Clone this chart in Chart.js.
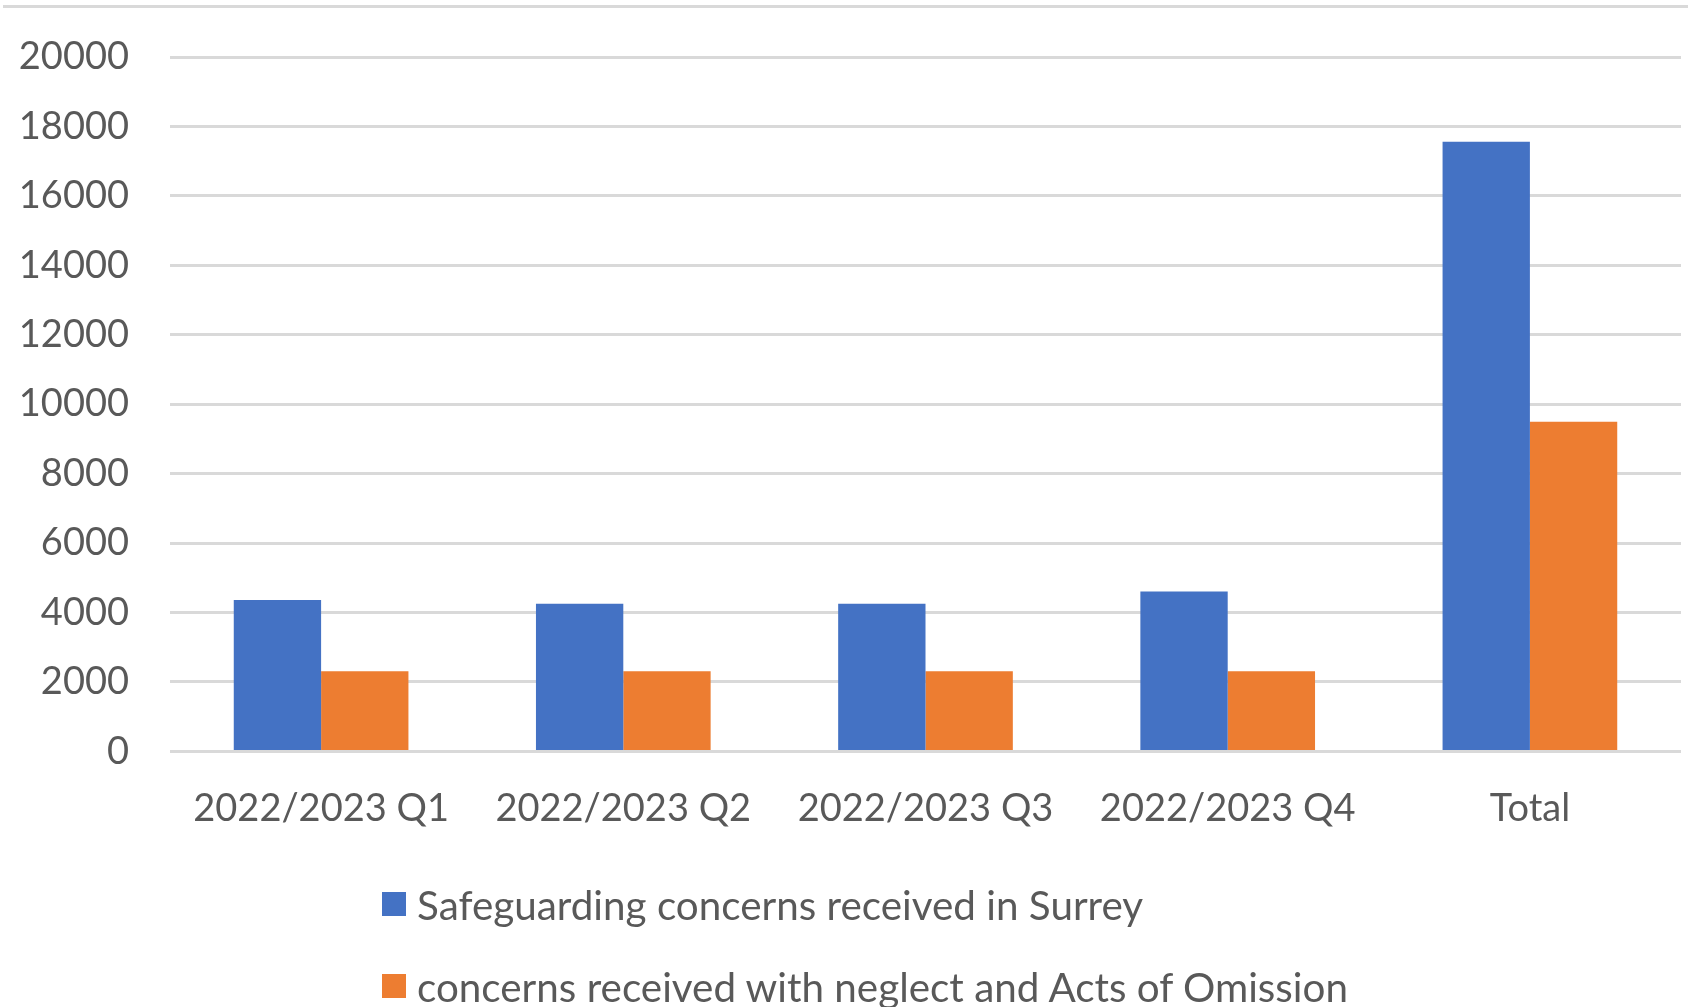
<!DOCTYPE html>
<html>
<head>
<meta charset="utf-8">
<script src="https://cdn.jsdelivr.net/npm/chart.js@4"></script>
<style>
	html, body { margin: 0; padding: 0; background: #fff; }
	#wrap { position: relative; width: 1688px; height: 1007px; overflow: hidden; }
	#topline { position: absolute; left: 3px; right: 0; top: 5px; height: 3px; background: #d9d9d9; }
	#legend { position: absolute; left: 382px; top: 863px; font-family: Lato, "Open Sans", sans-serif; font-size: 40.4px; color: #595959; }
	#legend .item { display: flex; align-items: center; height: 82px; }
	#legend .box { width: 24px; height: 24px; margin-right: 11px; }
</style>
</head>
<body>
<div id="wrap">
	<div id="topline"></div>
	<canvas id="myChart"></canvas>
	<div id="legend"></div>
</div>
<script>
// data
var categories = ["2022/2023 Q1", "2022/2023 Q2", "2022/2023 Q3", "2022/2023 Q4", "Total"];
var seriesNames = ["Safeguarding concerns received in Surrey", "concerns received with neglect and Acts of Omission"];
var surreyConcerns = [4362, 4250, 4250, 4604, 17561];
var neglectConcerns = [2305, 2308, 2308, 2312, 9495];
var yTicks = [0, 2000, 4000, 6000, 8000, 10000, 12000, 14000, 16000, 18000, 20000];

var BLUE = "#4472C4";
var ORANGE = "#ED7D31";
var TEXT = "#595959";
var GRID = "#d9d9d9";

// legend as html, built from the chart's datasets
function buildLegend(chart){
	var box = document.getElementById("legend");
	box.innerHTML = "";
	chart.data.datasets.forEach(function(ds){
		var row = document.createElement("div");
		row.className = "item";
		var sw = document.createElement("span");
		sw.className = "box";
		sw.style.background = ds.backgroundColor;
		var txt = document.createElement("span");
		txt.textContent = ds.label;
		row.appendChild(sw);
		row.appendChild(txt);
		box.appendChild(row);
	});
}

function createChart(){
	var ctx = document.getElementById("myChart");
	var font = { family: "Lato, 'Open Sans', sans-serif", size: 38 };

	var chart = new Chart(ctx, {
		type: "bar",
		data: {
			labels: categories,
			datasets: [
				{ label: seriesNames[0], data: surreyConcerns, backgroundColor: BLUE },
				{ label: seriesNames[1], data: neglectConcerns, backgroundColor: ORANGE }
			]
		},
		options: {
			responsive: true,
			maintainAspectRatio: false,
			animation: false,
			layout: { padding: { top: 57, left: 18, right: 7, bottom: 140 } },
			datasets: {
				bar: { barPercentage: 1, categoryPercentage: 0.578 }
			},
			plugins: {
				legend: { display: false },
				tooltip: { enabled: false }
			},
			scales: {
				x: {
					grid: { display: false, drawTicks: false },
					border: { display: false },
					ticks: { color: TEXT, font: font, padding: 35, maxRotation: 0 },
					// no extra room for the label overhang, the plot starts where the y labels end
					afterFit: function(axis){ axis.paddingLeft = 0; axis.paddingRight = 0; }
				},
				y: {
					min: 0,
					max: 20000,
					afterBuildTicks: function(axis){
						axis.ticks = yTicks.map(function(v){ return { value: v }; });
					},
					afterFit: function(axis){
						axis.width = 152;
						axis.paddingTop = 0;
						axis.paddingBottom = 0;
					},
					grid: { color: GRID, lineWidth: 3, drawTicks: false },
					border: { display: false },
					ticks: {
						color: TEXT, font: font, padding: 41,
						callback: function(v){ return String(v); }
					}
				}
			}
		}
	});
	buildLegend(chart);
}

createChart();
</script>
</body>
</html>
